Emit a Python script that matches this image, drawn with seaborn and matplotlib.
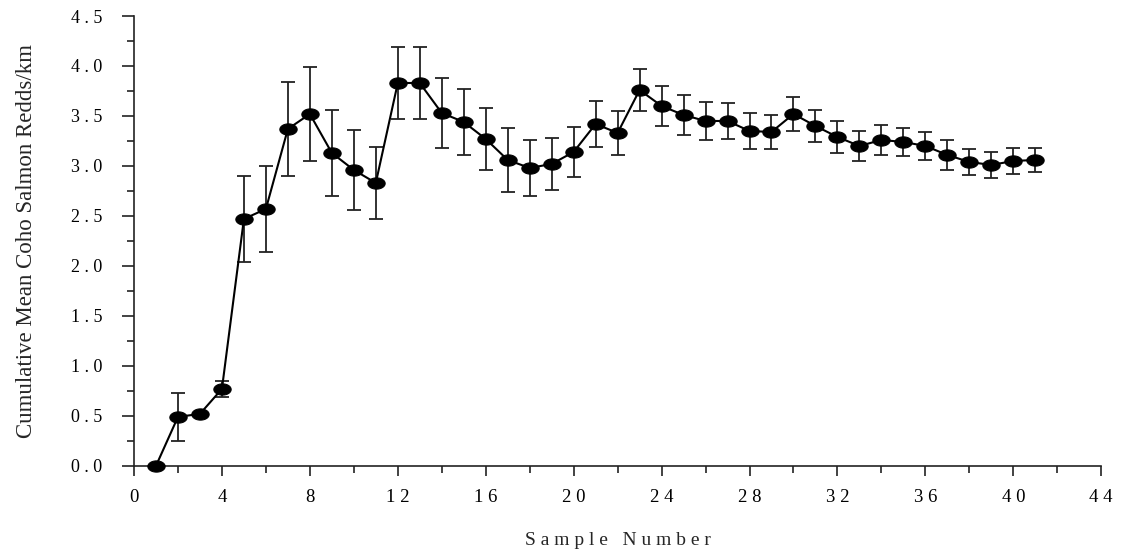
"""
Cumulative mean coho salmon redds per km against sample number.
"""

import numpy as np
import pandas as pd
import matplotlib
matplotlib.use("Agg")
import matplotlib.pyplot as plt
from matplotlib.path import Path
from matplotlib.ticker import MultipleLocator
import seaborn as sns

# Data
sample_number = list(range(1, 42))
cum_mean = [0.00, 0.49, 0.52, 0.77, 2.47, 2.57, 3.37, 3.52, 3.13, 2.96,
            2.83, 3.83, 3.83, 3.53, 3.44, 3.27, 3.06, 2.98, 3.02, 3.14,
            3.42, 3.33, 3.76, 3.60, 3.51, 3.45, 3.45, 3.35, 3.34, 3.52,
            3.40, 3.29, 3.20, 3.26, 3.24, 3.20, 3.11, 3.04, 3.01, 3.05,
            3.06]
std_err = [0.00, 0.24, 0.00, 0.08, 0.43, 0.43, 0.47, 0.47, 0.43, 0.40,
           0.36, 0.36, 0.36, 0.35, 0.33, 0.31, 0.32, 0.28, 0.26, 0.25,
           0.23, 0.22, 0.21, 0.20, 0.20, 0.19, 0.18, 0.18, 0.17, 0.17,
           0.16, 0.16, 0.15, 0.15, 0.14, 0.14, 0.15, 0.13, 0.13, 0.13,
           0.12]
x_ticks = list(range(0, 45, 4))
y_ticks = [0.0, 0.5, 1.0, 1.5, 2.0, 2.5, 3.0, 3.5, 4.0, 4.5]

df = pd.DataFrame({"sample": sample_number, "mean": cum_mean, "se": std_err})


def spaced(s):
    """Mimic the letter-spaced labels of the original."""
    return " ".join(s)


def main():
    sns.set_style("ticks")
    plt.rcParams['font.family'] = ['Liberation Serif', 'DejaVu Serif']

    fig = plt.figure(figsize=(11.26, 5.52), dpi=100)
    ax = fig.add_axes([0.119, 0.156, 0.859, 0.815])

    # wide ellipse marker
    t = np.linspace(0, 2 * np.pi, 60)
    ellipse = Path(np.column_stack([np.cos(t), 0.65 * np.sin(t)]), closed=True)

    ax.errorbar(df["sample"], df["mean"], yerr=df["se"], fmt="none",
                ecolor="#222222", elinewidth=1.3, capsize=5, capthick=1.3,
                zorder=2)
    sns.lineplot(data=df, x="sample", y="mean", ax=ax, color="black",
                 linewidth=1.5, marker=ellipse, markersize=12.5,
                 markerfacecolor="black", markeredgecolor="black", zorder=3,
                 clip_on=False)

    ax.set_xlim(0, 44)
    ax.set_ylim(0, 4.5)
    ax.set_xticks(x_ticks)
    ax.set_xticklabels([spaced(str(v)) for v in x_ticks])
    ax.xaxis.set_minor_locator(MultipleLocator(2))
    ax.set_yticks(y_ticks)
    ax.set_yticklabels([spaced(f"{v:.1f}") for v in y_ticks])
    ax.yaxis.set_minor_locator(MultipleLocator(0.25))

    ax.tick_params(axis="both", which="major", width=1.2,
                   colors="#222222", labelcolor="black")
    ax.tick_params(axis="both", which="minor", length=5, width=1.2,
                   colors="#222222")
    ax.tick_params(axis="x", which="major", length=7, pad=10, labelsize=13.5)
    ax.tick_params(axis="y", which="major", length=9, pad=14, labelsize=13)

    for side in ["top", "right"]:
        ax.spines[side].set_visible(False)
    for side in ["left", "bottom"]:
        ax.spines[side].set_linewidth(1.2)
        ax.spines[side].set_color("#222222")

    ax.set_xlabel(spaced("Sample") + "   " + spaced("Number"), fontsize=14)
    ax.xaxis.set_label_coords(0.5, -0.148)
    ax.set_ylabel("Cumulative Mean Coho Salmon Redds/km", fontsize=16.5)
    ax.yaxis.set_label_coords(-0.1, 0.5)

    fig.savefig("out.png", dpi=100)
    print("Saved chart to: out.png")


if __name__ == "__main__":
    main()
